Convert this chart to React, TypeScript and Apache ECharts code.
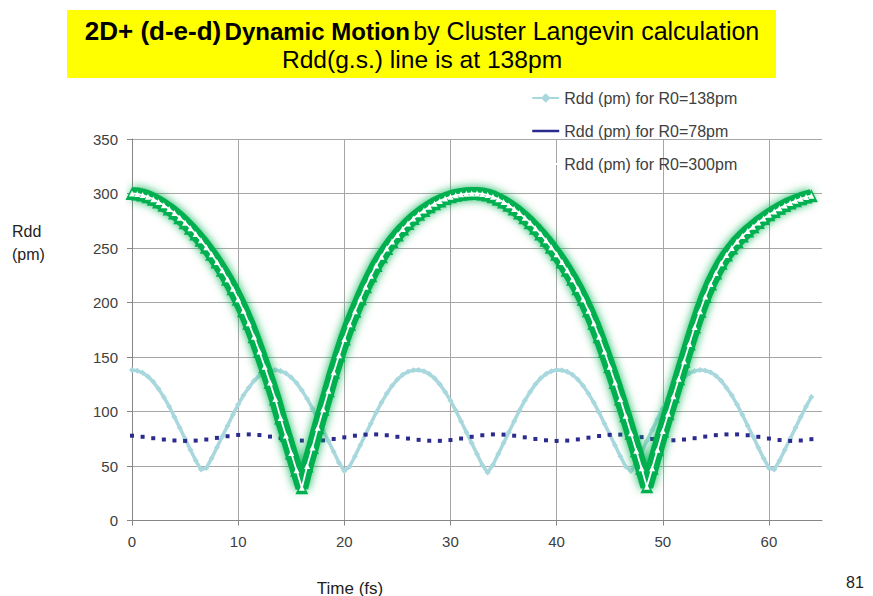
import React, { useEffect, useRef } from "react";
import * as echarts from "echarts";

// Time axis (fs), 0.5 fs steps
const timeFs = [
  0, 0.5, 1, 1.5, 2, 2.5, 3, 3.5, 4, 4.5, 5, 5.5, 6, 6.5, 7, 7.5, 8, 8.5, 9, 9.5,
  10, 10.5, 11, 11.5, 12, 12.5, 13, 13.5, 14, 14.5, 15, 15.5, 16, 16.5, 17, 17.5, 18, 18.5, 19, 19.5,
  20, 20.5, 21, 21.5, 22, 22.5, 23, 23.5, 24, 24.5, 25, 25.5, 26, 26.5, 27, 27.5, 28, 28.5, 29, 29.5,
  30, 30.5, 31, 31.5, 32, 32.5, 33, 33.5, 34, 34.5, 35, 35.5, 36, 36.5, 37, 37.5, 38, 38.5, 39, 39.5,
  40, 40.5, 41, 41.5, 42, 42.5, 43, 43.5, 44, 44.5, 45, 45.5, 46, 46.5, 47, 47.5, 48, 48.5, 49, 49.5,
  50, 50.5, 51, 51.5, 52, 52.5, 53, 53.5, 54, 54.5, 55, 55.5, 56, 56.5, 57, 57.5, 58, 58.5, 59, 59.5,
  60, 60.5, 61, 61.5, 62, 62.5, 63, 63.5, 64,
];

// Rdd (pm) for R0=138pm
const rddR0_138 = [
  138, 137.4, 135.5, 132, 127.2, 120.8, 113.2, 104.6, 95, 85, 75, 65, 55, 46.8, 48.2, 57, 67, 77, 87, 97,
  106.4, 114.8, 121.8, 128.3, 132.9, 136, 137.6, 138, 137.2, 135, 131.3, 126.1, 119.4, 111.6, 102.8, 93, 83, 73, 63, 53,
  45.4, 49.6, 59, 69, 79, 89, 99, 108.2, 116.4, 123.6, 129.4, 133.7, 136.5, 137.8, 138, 137, 134.5, 130.5, 125, 118,
  110, 101, 91, 81, 71, 61, 51, 44, 51, 61, 71, 81, 91, 101, 110, 118, 125, 130.5, 134.5, 137,
  138, 137.8, 136.5, 133.7, 129.4, 123.6, 116.4, 108.2, 99, 89, 79, 69, 59, 49.6, 45.4, 53, 63, 73, 83, 93,
  102.8, 111.6, 119.4, 126.1, 131.3, 135, 137.2, 138, 137.6, 136, 132.9, 128.3, 121.8, 114.8, 106.4, 97, 87, 77, 67, 57,
  48.2, 46.8, 55, 65, 75, 85, 95, 104.6, 113.2,
];

// Rdd (pm) for R0=300pm
const rddR0_300 = [
  300, 299.6, 298.6, 297, 294.8, 292.2, 289.2, 285.8, 282, 277.8, 273.2, 268.2, 262.8, 257, 250.8, 244.2, 237.2, 229.6, 221.4, 212.6,
  203, 192.5, 181, 168.5, 155, 141, 126.5, 111.5, 94, 78, 62, 46, 30, 50, 67, 85, 102, 119, 136, 151.5,
  166.5, 180, 192, 203.5, 214.5, 224.5, 234, 242, 249.5, 256, 262, 267.5, 272.5, 277, 281, 284.5, 287.8, 290.7, 293.2, 295.3,
  297, 298.3, 299.2, 299.7, 300, 300, 299.6, 298.6, 297, 294.8, 292.2, 289.2, 285.8, 282, 277.8, 273.2, 268.2, 262.8, 257, 250.8,
  244.2, 237.2, 229.6, 221.4, 212.6, 203, 192.5, 181, 168.5, 155, 141, 126.5, 111.5, 96, 80, 64, 48, 31, 48, 65,
  82, 98, 114, 130, 146, 162, 177.5, 192, 205.5, 217, 227, 236, 243.5, 250, 256, 261, 265.5, 269.5, 273.5, 277,
  280.5, 283.5, 286.5, 289, 291.3, 293.3, 295.2, 296.8, 298,
];

// Time axis (fs), 1 fs steps, for R0=78pm
const timeFsWhole = [
  0, 1, 2, 3, 4, 5, 6, 7, 8, 9, 10, 11, 12, 13, 14, 15, 16, 17, 18, 19,
  20, 21, 22, 23, 24, 25, 26, 27, 28, 29, 30, 31, 32, 33, 34, 35, 36, 37, 38, 39,
  40, 41, 42, 43, 44, 45, 46, 47, 48, 49, 50, 51, 52, 53, 54, 55, 56, 57, 58, 59,
  60, 61, 62, 63, 64,
];

// Rdd (pm) for R0=78pm
const rddR0_78 = [
  77.8, 76.8, 75.5, 74.3, 73.4, 73, 73.3, 74.3, 75.8, 77.3, 78.5, 79, 78.4, 77, 75.5, 74.2, 73.3, 73, 73.5, 74.8,
  76.3, 77.8, 78.8, 79, 78.2, 76.8, 75.2, 74, 73.2, 73.1, 73.8, 75.2, 76.8, 78.2, 79, 78.8, 77.8, 76.3, 74.8, 73.6,
  73, 73.3, 74.4, 76, 77.5, 78.6, 78.8, 78, 76.5, 74.8, 73.8, 73.6, 74.3, 75.5, 77, 78.3, 79, 79, 78.2, 76.8,
  75.2, 73.8, 73, 73.4, 74.6,
];

const seriesNames = [
  "Rdd (pm) for R0=138pm",
  "Rdd (pm) for R0=78pm",
  "Rdd (pm) for R0=300pm",
];

const titleLine2 = "Rdd(g.s.) line is at 138pm";
const xAxisTitle = "Time (fs)";
const yAxisTitle = ["Rdd", "(pm)"];
const pageNumber = "81";

const FONT = "'Liberation Sans', Arial, sans-serif";

function pairs(xs: number[], ys: number[]) {
  return ys.map((y, i) => [xs[i], y]);
}

export default function App() {
  const ref = useRef<HTMLDivElement>(null);

  useEffect(() => {
    if (!ref.current) return;
    const chart = echarts.init(ref.current, undefined, { renderer: "svg" });
    const cyan = "#A8D8DD";
    const navy = "#2B2A8E";
    const green = "#00B050";

    const option: any = {
      animation: false,
      backgroundColor: "#ffffff",
      textStyle: { fontFamily: FONT },
      grid: { left: 132, top: 139, width: 690, height: 381.5, containLabel: false },
      legend: {
        orient: "vertical",
        left: 526,
        top: 85,
        itemWidth: 27,
        itemHeight: 12,
        itemGap: 17,
        textStyle: { fontSize: 16, color: "#404040", fontFamily: FONT },
        data: [
          { name: seriesNames[0] },
          {
            name: seriesNames[1],
            lineStyle: { opacity: 1, width: 2.5, color: navy },
            itemStyle: { opacity: 0 },
          },
          { name: seriesNames[2] },
        ],
      },
      xAxis: {
        type: "value",
        min: 0,
        max: 65,
        interval: 10,
        axisLine: { show: true, lineStyle: { color: "#868686", width: 1 } },
        axisTick: { show: true, length: 5, lineStyle: { color: "#868686" } },
        axisLabel: {
          showMaxLabel: false,
          margin: 13,
          fontSize: 15,
          color: "#404040",
          fontFamily: FONT,
        },
        splitLine: { show: true, showMaxLine: false, lineStyle: { color: "#A6A6A6", width: 1 } },
      },
      yAxis: {
        type: "value",
        min: 0,
        max: 350,
        interval: 50,
        axisLine: { show: true, lineStyle: { color: "#868686", width: 1 } },
        axisTick: { show: true, length: 5, lineStyle: { color: "#868686" } },
        axisLabel: { margin: 14, fontSize: 15, color: "#404040", fontFamily: FONT },
        splitLine: { show: true, lineStyle: { color: "#A6A6A6", width: 1 } },
      },
      series: [
        {
          name: seriesNames[0],
          type: "line",
          data: pairs(timeFs, rddR0_138),
          symbol: "diamond",
          symbolSize: 6,
          showAllSymbol: true,
          lineStyle: { color: cyan, width: 3.5 },
          itemStyle: { color: cyan },
          z: 2,
        },
        {
          name: seriesNames[1],
          type: "line",
          data: pairs(timeFsWhole, rddR0_78),
          symbol: "rect",
          symbolSize: 4,
          showAllSymbol: true,
          lineStyle: { color: navy, width: 0, opacity: 0 },
          itemStyle: { color: navy },
          z: 3,
        },
        {
          name: "glow",
          type: "line",
          data: pairs(timeFs, rddR0_300),
          symbol: "triangle",
          symbolSize: 13,
          showAllSymbol: true,
          silent: true,
          lineStyle: {
            color: green,
            width: 13,
            shadowBlur: 10,
            shadowColor: "rgba(0,176,80,0.9)",
          },
          itemStyle: { color: green },
          z: 4,
        },
        {
          name: seriesNames[2],
          type: "line",
          data: pairs(timeFs, rddR0_300),
          symbol: "triangle",
          symbolSize: 6,
          showAllSymbol: true,
          lineStyle: { color: "#ffffff", width: 1.8 },
          itemStyle: { color: "#ffffff" },
          z: 5,
        },
      ],
      graphic: [
        {
          type: "rect",
          shape: { x: 67, y: 10, width: 709, height: 68 },
          style: { fill: "#FFFF00" },
          z: 10,
        },
        {
          type: "text",
          x: 422,
          y: 31,
          z: 11,
          style: {
            text: "{a|2D+ (d-e-d)} {b|Dynamic Motion} {c|by Cluster Langevin calculation}",
            align: "center",
            verticalAlign: "middle",
            rich: {
              a: { fontSize: 26, fontWeight: "bold", fontFamily: FONT, fill: "#000" },
              b: { fontSize: 24, fontWeight: "bold", fontFamily: FONT, fill: "#000" },
              c: { fontSize: 25, fontFamily: FONT, fill: "#000" },
            },
          },
        },
        {
          type: "text",
          x: 422,
          y: 59,
          z: 11,
          style: {
            text: titleLine2,
            fontSize: 24.6,
            fontFamily: FONT,
            fill: "#000",
            align: "center",
            verticalAlign: "middle",
          },
        },
        {
          type: "text",
          x: 12,
          y: 220,
          style: {
            text: yAxisTitle.join("\n"),
            fontSize: 16,
            lineHeight: 23,
            fontFamily: FONT,
            fill: "#222",
          },
        },
        {
          type: "text",
          x: 350,
          y: 588,
          style: {
            text: xAxisTitle,
            fontSize: 17,
            fontFamily: FONT,
            fill: "#222",
            align: "center",
            verticalAlign: "middle",
          },
        },
        {
          type: "text",
          x: 855,
          y: 582,
          style: {
            text: pageNumber,
            fontSize: 16,
            fontFamily: FONT,
            fill: "#222",
            align: "center",
            verticalAlign: "middle",
          },
        },
      ],
    };
    chart.setOption(option);
    return () => chart.dispose();
  }, []);

  return (
    <div
      ref={ref}
      style={{ position: "fixed", left: 0, top: 0, width: 873, height: 596 }}
    />
  );
}
